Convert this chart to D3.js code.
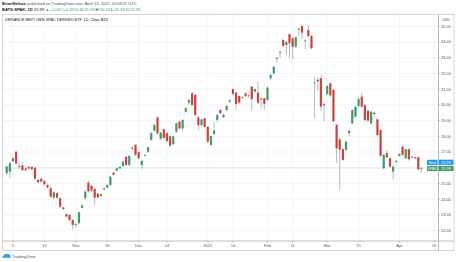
<!DOCTYPE html>
<html>
<head>
<meta charset="utf-8">
<script src="https://cdn.jsdelivr.net/npm/d3@7"></script>
<style>
  body { margin: 0; background: #fff; }
  svg { display: block; }
  text { font-family: "Liberation Sans", Arial, sans-serif; }
</style>
</head>
<body>
<div id="chart"></div>
<script>
// trading days shown (Oct 1 2020 .. Apr 13 2021)
const dates = [
  "2020-10-01","2020-10-02","2020-10-05","2020-10-06","2020-10-07","2020-10-08","2020-10-09","2020-10-12","2020-10-13","2020-10-14","2020-10-15","2020-10-16","2020-10-19","2020-10-20","2020-10-21","2020-10-22","2020-10-23","2020-10-26","2020-10-27","2020-10-28","2020-10-29","2020-10-30",
  "2020-11-02","2020-11-03","2020-11-04","2020-11-05","2020-11-06","2020-11-09","2020-11-10","2020-11-11","2020-11-12","2020-11-13","2020-11-16","2020-11-17","2020-11-18","2020-11-19","2020-11-20","2020-11-23","2020-11-24","2020-11-25","2020-11-27","2020-11-30",
  "2020-12-01","2020-12-02","2020-12-03","2020-12-04","2020-12-07","2020-12-08","2020-12-09","2020-12-10","2020-12-11","2020-12-14","2020-12-15","2020-12-16","2020-12-17","2020-12-18","2020-12-21","2020-12-22","2020-12-23","2020-12-24","2020-12-28","2020-12-29","2020-12-30","2020-12-31",
  "2021-01-04","2021-01-05","2021-01-06","2021-01-07","2021-01-08","2021-01-11","2021-01-12","2021-01-13","2021-01-14","2021-01-15","2021-01-19","2021-01-20","2021-01-21","2021-01-22","2021-01-25","2021-01-26","2021-01-27","2021-01-28","2021-01-29",
  "2021-02-01","2021-02-02","2021-02-03","2021-02-04","2021-02-05","2021-02-08","2021-02-09","2021-02-10","2021-02-11","2021-02-12","2021-02-16","2021-02-17","2021-02-18","2021-02-19","2021-02-22","2021-02-23","2021-02-24","2021-02-25","2021-02-26",
  "2021-03-01","2021-03-02","2021-03-03","2021-03-04","2021-03-05","2021-03-08","2021-03-09","2021-03-10","2021-03-11","2021-03-12","2021-03-15","2021-03-16","2021-03-17","2021-03-18","2021-03-19","2021-03-22","2021-03-23","2021-03-24","2021-03-25","2021-03-26","2021-03-29","2021-03-30","2021-03-31",
  "2021-04-01","2021-04-05","2021-04-06","2021-04-07","2021-04-08","2021-04-09","2021-04-12","2021-04-13"
];
// empty days on the right of the last bar
const futureDates = ["2021-04-14","2021-04-15","2021-04-16","2021-04-19"];

const open = [25.65,25.75,26.60,27.02,26.10,26.15,25.95,26.05,26.05,26.00,25.22,25.30,25.16,24.90,24.70,24.10,24.38,24.06,23.48,23.04,23.00,22.68,
  22.36,22.47,23.46,24.06,25.05,24.85,24.65,24.35,24.30,24.63,24.73,24.90,25.69,25.82,25.95,26.11,26.70,26.18,27.20,27.45,
  27.00,26.18,26.75,27.02,27.77,28.36,29.21,27.85,28.45,28.20,28.00,27.50,28.30,28.93,28.50,29.56,30.14,30.74,30.63,29.20,28.72,29.15,
  28.60,27.45,28.15,29.04,29.68,29.21,29.68,30.20,31.00,30.78,30.57,30.45,30.74,30.60,31.16,30.84,30.78,30.40,30.42,
  30.31,31.69,32.01,32.93,33.32,34.13,33.81,34.51,34.24,33.70,34.78,35.02,34.05,34.76,34.38,31.38,31.60,31.70,30.05,
  30.69,31.37,30.95,28.72,27.80,27.18,27.13,28.20,28.83,29.25,29.93,30.52,29.99,29.63,28.83,29.50,29.08,28.40,25.97,26.93,26.60,25.75,26.35,
  26.75,27.34,26.60,27.18,26.70,26.67,26.67,25.93];
const high = [26.15,26.40,26.70,27.05,26.30,26.35,26.00,26.10,26.10,26.05,25.30,25.40,25.20,25.00,24.80,24.50,24.45,24.10,23.50,23.10,23.05,22.70,
  22.50,23.20,23.70,24.55,25.20,24.90,24.75,24.40,24.35,24.75,24.95,25.50,25.75,26.00,26.10,26.45,26.75,26.80,27.35,27.50,
  27.05,26.50,26.90,27.35,28.30,28.80,29.25,28.30,28.50,28.25,28.05,28.05,28.90,29.00,29.10,29.85,30.40,30.80,30.70,29.30,29.10,29.20,
  28.65,28.05,28.90,29.40,29.75,29.45,30.00,30.35,31.05,30.85,30.60,30.55,30.80,30.65,31.20,31.05,31.50,30.45,30.50,
  31.15,32.00,32.50,33.05,33.42,34.20,34.05,34.55,34.30,34.35,34.90,35.05,34.20,35.08,34.45,31.80,31.75,31.90,30.15,
  31.25,31.40,31.05,28.80,27.95,27.25,27.70,28.45,29.70,29.95,30.50,30.75,30.05,29.70,29.60,29.55,29.15,28.45,26.90,27.13,26.65,26.15,26.50,
  26.95,27.40,27.22,27.25,26.75,26.70,26.72,26.03];
const low = [25.55,25.35,26.35,26.20,25.90,25.80,25.80,25.90,25.85,25.25,25.00,25.05,24.85,24.65,24.10,24.00,24.00,23.45,23.30,22.85,22.60,22.05,
  22.20,22.40,23.40,24.00,24.40,24.45,23.65,24.05,24.15,24.55,24.70,24.85,25.50,25.78,25.90,26.05,26.10,26.10,27.15,26.75,
  26.55,25.90,26.70,26.95,27.70,28.30,28.10,27.75,27.80,27.60,27.30,27.45,28.20,28.45,28.30,29.50,30.00,29.95,29.30,28.40,28.65,28.55,
  27.55,27.40,28.10,28.90,29.40,29.15,29.60,30.10,30.60,29.70,30.05,30.40,30.50,30.50,29.60,30.80,30.05,29.80,29.70,
  30.25,31.60,31.95,32.70,33.00,33.70,33.20,33.00,32.90,33.60,34.40,34.20,33.55,34.30,33.55,29.15,30.90,29.60,28.95,
  30.60,30.50,28.90,26.30,24.60,26.45,27.05,28.00,28.75,29.20,29.85,29.80,28.95,28.90,28.70,29.30,28.00,26.70,25.90,26.60,26.00,25.27,26.30,
  26.70,26.75,26.55,26.45,26.60,26.55,25.85,25.69];
const close = [26.07,26.28,26.43,26.28,26.05,25.85,25.85,25.95,25.90,25.30,25.08,25.12,24.95,24.75,24.16,24.44,24.10,23.52,23.38,22.89,22.68,22.36,
  22.42,23.17,23.59,24.48,24.50,24.55,24.10,24.12,24.20,24.70,24.90,25.43,25.55,25.97,26.05,26.39,26.18,26.75,27.28,26.82,
  26.60,26.43,26.80,27.30,28.19,28.72,28.19,28.23,27.90,27.70,27.40,28.00,28.83,28.50,29.04,29.78,30.31,30.00,29.36,28.72,29.08,28.60,
  27.66,28.02,28.36,29.36,29.47,29.36,29.93,30.28,30.70,30.06,30.14,30.50,30.57,30.55,30.36,31.00,30.14,30.33,30.06,
  31.10,31.90,32.43,33.00,33.38,33.75,34.00,33.92,33.70,34.30,34.85,34.59,34.10,34.38,33.60,31.42,31.50,29.90,29.98,
  31.20,30.60,28.95,27.24,27.15,26.50,27.66,28.35,29.68,29.89,30.36,29.89,29.04,29.00,29.57,29.42,28.08,26.75,26.82,26.67,26.07,26.07,26.42,
  26.87,26.82,27.18,26.54,26.65,26.60,25.90,25.99];

const priceTicks = [22, 23, 24, 25, 26, 27, 28, 29, 30, 31, 32, 33, 34, 35];
const timeTickDates = ["2020-10-05","2020-10-19","2020-11-02","2020-11-16","2020-12-01","2020-12-14","2021-01-04","2021-01-14","2021-02-01","2021-02-11","2021-03-01","2021-03-15","2021-04-01","2021-04-19"];
const timeTickLabels = ["5","19","Nov","16","Dec","14","2021","14","Feb","11","Mar","15","Apr","19"];

function candlePlot() {
  let width = 456, height = 262;
  let upColor = "#3f9a66", downColor = "#cc433c", wickColor = "#9b9b9b";

  function chart(selector) {
    // frame of the pane
    const pane = {left: 2.5, right: 438.5, top: 14.5, bottom: 241, outerRight: 454, outerBottom: 250.5};

    const svg = d3.select(selector)
      .append("svg")
      .attr("width", width)
      .attr("height", height);

    const allDates = dates.concat(futureDates);

    // bar index scale, Oct 5 -> first label, Apr 19 -> last label
    const xScale = d3.scaleLinear()
      .domain([allDates.indexOf("2020-10-05"), allDates.indexOf("2021-04-19")])
      .range([13, 434]);

    const yScale = d3.scaleLinear()
      .domain([22, 35])
      .range([230.6, 26.3]);

    // header lines
    const h1 = svg.append("text").attr("x", 2).attr("y", 5.3)
      .attr("font-size", 4.1).attr("fill", "#50535e");
    h1.append("tspan").attr("font-weight", "bold").attr("fill", "#131722").text("BrianNelson");
    h1.append("tspan").text(" published on TradingView.com, April 13, 2021 20:58:47 UTC");

    const green = "#26a69a";
    const h2 = svg.append("text").attr("x", 2).attr("y", 11.2)
      .attr("font-size", 4.1).attr("fill", "#131722");
    h2.append("tspan").attr("font-weight", "bold").text("BATS:SPAK, 1D");
    h2.append("tspan").text(" 25.99 ");
    h2.append("tspan").attr("fill", green).text("▲ +0.09 (+0.35%)");
    [["O:", "25.93"], ["H:", "26.03"], ["L:", "25.69"], ["C:", "25.99"]].forEach(function(p) {
      h2.append("tspan").text(" " + p[0]);
      h2.append("tspan").attr("fill", green).text(p[1]);
    });

    // outer frame
    svg.append("rect")
      .attr("x", pane.left).attr("y", pane.top)
      .attr("width", pane.outerRight - pane.left)
      .attr("height", pane.outerBottom - pane.top)
      .attr("fill", "none").attr("stroke", "#b8bbc2").attr("stroke-width", 0.6);

    // horizontal gridlines
    svg.append("g")
      .selectAll("line")
      .data(priceTicks)
      .join("line")
      .attr("x1", pane.left).attr("x2", pane.right)
      .attr("y1", d => yScale(d)).attr("y2", d => yScale(d))
      .attr("stroke", "#eceef3").attr("stroke-width", 0.6);

    // vertical gridlines
    svg.append("g")
      .selectAll("line")
      .data(timeTickDates)
      .join("line")
      .attr("x1", d => xScale(allDates.indexOf(d))).attr("x2", d => xScale(allDates.indexOf(d)))
      .attr("y1", pane.top).attr("y2", pane.bottom)
      .attr("stroke", "#eceef3").attr("stroke-width", 0.6);

    // separators of the price and time scales
    svg.append("line")
      .attr("x1", pane.right).attr("x2", pane.right)
      .attr("y1", pane.top).attr("y2", pane.outerBottom)
      .attr("stroke", "#8f929a").attr("stroke-width", 0.6);
    svg.append("line")
      .attr("x1", pane.left).attr("x2", pane.outerRight)
      .attr("y1", pane.bottom).attr("y2", pane.bottom)
      .attr("stroke", "#8f929a").attr("stroke-width", 0.6);

    // last price line
    const last = close.length - 1;
    svg.append("line")
      .attr("x1", pane.left).attr("x2", pane.right)
      .attr("y1", yScale(close[last])).attr("y2", yScale(close[last]))
      .attr("stroke", "#c9dcef").attr("stroke-width", 0.6);

    // chart title
    svg.append("text")
      .attr("x", 5).attr("y", 20.8)
      .attr("font-size", 3.8).attr("fill", "#131722")
      .text("DEFIANCE NEXT GEN SPAC DERIVED ETF, 1D, Cboe BZX");

    // candles
    const bars = d3.range(close.length);
    const plot = svg.append("g");

    plot.selectAll(".wick")
      .data(bars)
      .join("line")
      .attr("class", "wick")
      .attr("x1", i => xScale(i)).attr("x2", i => xScale(i))
      .attr("y1", i => yScale(high[i])).attr("y2", i => yScale(low[i]))
      .attr("stroke", wickColor).attr("stroke-width", 0.7);

    const bodyW = 2.2;
    plot.selectAll(".body")
      .data(bars)
      .join("rect")
      .attr("class", "body")
      .attr("x", i => xScale(i) - bodyW / 2)
      .attr("width", bodyW)
      .attr("y", i => yScale(Math.max(open[i], close[i])))
      .attr("height", i => Math.max(0.8, Math.abs(yScale(open[i]) - yScale(close[i]))))
      .attr("fill", i => close[i] >= open[i] ? upColor : downColor);

    // price axis
    const yAxis = svg.append("g");
    yAxis.selectAll("line")
      .data(priceTicks)
      .join("line")
      .attr("x1", pane.right).attr("x2", pane.right + 1.5)
      .attr("y1", d => yScale(d)).attr("y2", d => yScale(d))
      .attr("stroke", "#8f929a").attr("stroke-width", 0.5);
    yAxis.selectAll("text")
      .data(priceTicks.filter(d => d !== 26))
      .join("text")
      .attr("x", pane.right + 2.5)
      .attr("y", d => yScale(d) + 1.4)
      .attr("font-size", 4)
      .attr("fill", "#50535e")
      .text(d => d3.format(".2f")(d));

    svg.append("text")
      .attr("x", 446).attr("y", 20.5)
      .attr("text-anchor", "middle")
      .attr("font-size", 3.6).attr("fill", "#50535e")
      .text("USD");

    // last price labels
    const lastY = yScale(close[last]);
    function tag(y, color, name) {
      svg.append("rect").attr("x", 427).attr("y", y - 2.6).attr("width", 10.5).attr("height", 5.2)
        .attr("fill", color).attr("rx", 0.5);
      svg.append("text").attr("x", 432.2).attr("y", y + 1.4).attr("text-anchor", "middle")
        .attr("font-size", 3.6).attr("fill", "#fff").text(name);
      svg.append("rect").attr("x", 438.8).attr("y", y - 2.6).attr("width", 14.7).attr("height", 5.2)
        .attr("fill", color);
      svg.append("text").attr("x", pane.right + 2.5).attr("y", y + 1.4)
        .attr("font-size", 4).attr("fill", "#fff").text(d3.format(".2f")(close[last]));
    }
    tag(lastY - 5.6, "#2196f3", "Real");
    tag(lastY + 0.6, upColor, "SPAK");

    // time axis
    const xAxis = svg.append("g");
    xAxis.selectAll("line")
      .data(timeTickDates)
      .join("line")
      .attr("x1", d => xScale(allDates.indexOf(d))).attr("x2", d => xScale(allDates.indexOf(d)))
      .attr("y1", pane.bottom).attr("y2", pane.bottom + 1.5)
      .attr("stroke", "#8f929a").attr("stroke-width", 0.5);
    xAxis.selectAll("text")
      .data(timeTickDates)
      .join("text")
      .attr("x", d => xScale(allDates.indexOf(d)))
      .attr("y", pane.bottom + 5.8)
      .attr("text-anchor", "middle")
      .attr("font-size", 4)
      .attr("fill", "#50535e")
      .text((d, i) => timeTickLabels[i]);

    // TradingView footer
    const logo = svg.append("g").attr("transform", "translate(2,253)");
    logo.append("path")
      .attr("d", "M0.5,4.5 Q0,2.6 1.8,2.4 Q2.4,0.6 4.4,1.2 Q5.6,0 7.2,1.4 Q8.8,1.6 8.6,3.4 Q9,4.5 8,4.8 L1.2,4.8 Z")
      .attr("fill", "#2e9ef2");
    logo.append("text")
      .attr("x", 10).attr("y", 4.6)
      .attr("font-size", 4.3).attr("fill", "#50535e")
      .text("TradingView");
  }

  chart.width = function(_) {
    if (!arguments.length) return width;
    width = _;
    return chart;
  };

  chart.height = function(_) {
    if (!arguments.length) return height;
    height = _;
    return chart;
  };

  return chart;
}

candlePlot()("#chart");
</script>
</body>
</html>
